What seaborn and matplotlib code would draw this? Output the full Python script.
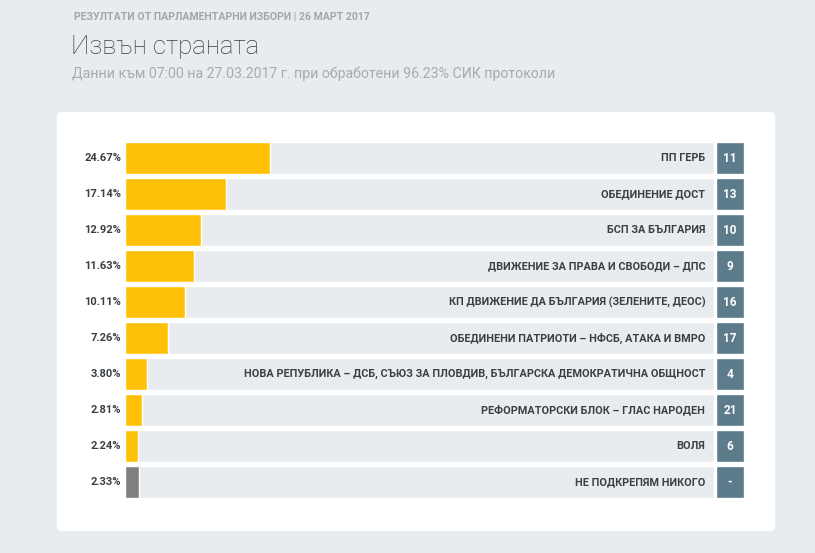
import matplotlib
matplotlib.use("Agg")
import matplotlib.pyplot as plt
from matplotlib.patches import FancyBboxPatch
import seaborn as sns
import pandas as pd

parties = [
    "ПП ГЕРБ",
    "ОБЕДИНЕНИЕ ДОСТ",
    "БСП ЗА БЪЛГАРИЯ",
    "ДВИЖЕНИЕ ЗА ПРАВА И СВОБОДИ – ДПС",
    "КП ДВИЖЕНИЕ ДА БЪЛГАРИЯ (ЗЕЛЕНИТЕ, ДЕОС)",
    "ОБЕДИНЕНИ ПАТРИОТИ – НФСБ, АТАКА И ВМРО",
    "НОВА РЕПУБЛИКА – ДСБ, СЪЮЗ ЗА ПЛОВДИВ, БЪЛГАРСКА ДЕМОКРАТИЧНА ОБЩНОСТ",
    "РЕФОРМАТОРСКИ БЛОК – ГЛАС НАРОДЕН",
    "ВОЛЯ",
    "НЕ ПОДКРЕПЯМ НИКОГО",
]
percent = [24.67, 17.14, 12.92, 11.63, 10.11, 7.26, 3.80, 2.81, 2.24, 2.33]
ballot_no = ["11", "13", "10", "9", "16", "17", "4", "21", "6", "-"]

header = "РЕЗУЛТАТИ ОТ ПАРЛАМЕНТАРНИ ИЗБОРИ | 26 МАРТ 2017"
title = "Извън страната"
subtitle = "Данни към 07:00 на 27.03.2017 г. при обработени 96.23% СИК протоколи"

df = pd.DataFrame({"party": parties, "pct": percent, "no": ballot_no})
df["full"] = 100.0
df["one"] = 1.0

sns.set_theme(style="white")
plt.rcParams["font.family"] = ["Roboto", "DejaVu Sans"]

W, H = 815, 553
fig = plt.figure(figsize=(W / 100, H / 100), dpi=100)
fig.patch.set_facecolor("#e9ecef")

# white card behind the bars
card = FancyBboxPatch((57 / W, 1 - 531 / H), (775 - 57) / W, (531 - 112) / H,
                      boxstyle="round,pad=0,rounding_size=0.008",
                      transform=fig.transFigure, facecolor="white",
                      edgecolor="none", zorder=-10)
fig.patches.append(card)

fig.text(74 / W, 1 - 17 / H, header, fontsize=7.6, fontweight="bold",
         color="#9ea7b0", va="center", ha="left")
fig.text(71 / W, 1 - 47 / H, title, fontsize=18.5, fontweight="light",
         color="#3a3f44", va="center", ha="left")
fig.text(72 / W, 1 - 74 / H, subtitle, fontsize=10.2, color="#a3abb3",
         va="center", ha="left")

# row pitch 36px, bar 32px
bw = 32 / 36
n = len(parties)
lims = (n - 1 + bw / 2, -bw / 2)

top, bottom = 142, 498
ax = fig.add_axes([125 / W, 1 - bottom / H, (714 - 125) / W, (bottom - top) / H])
ax.set_zorder(1)
sns.barplot(data=df, x="full", y="party", orient="h", color="#e9ecef",
            width=bw, ax=ax, saturation=1)
colors = ["#ffc107"] * (n - 1) + ["#7f7f7f"]
sns.barplot(data=df, x="pct", y="party", hue="party", palette=colors,
            orient="h", width=bw, ax=ax, saturation=1, legend=False)
ax.set_xlim(0, 100)
ax.set_ylim(*lims)
for i, row in df.iterrows():
    ax.text(-0.6, i, f"{row.pct:.2f}%", ha="right", va="center",
            fontsize=8, fontweight="bold", color="#3a3f44")
    ax.text(98.5, i, row.party, ha="right", va="center", fontsize=7.8,
            fontweight="bold", color="#3a3f44")
ax.axis("off")

ax2 = fig.add_axes([716 / W, 1 - bottom / H, (744 - 716) / W, (bottom - top) / H])
ax2.set_zorder(1)
sns.barplot(data=df, x="one", y="party", orient="h", color="#5c7b8b",
            width=bw, ax=ax2, saturation=1)
ax2.set_xlim(0, 1)
ax2.set_ylim(*lims)
for i, row in df.iterrows():
    ax2.text(0.5, i, row.no, ha="center", va="center", fontsize=8.5,
             fontweight="bold", color="white")
ax2.axis("off")

fig.savefig("out.png", dpi=100, facecolor=fig.get_facecolor())
